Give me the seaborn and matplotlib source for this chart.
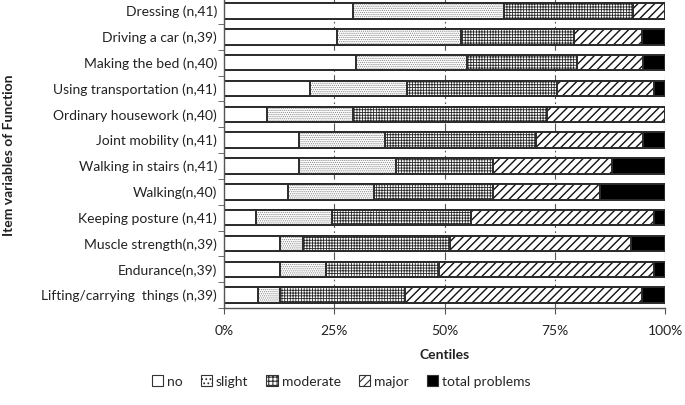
import matplotlib.pyplot as plt
import seaborn as sns
import pandas as pd
import numpy as np
from matplotlib.patches import Patch

# percentages per item
items = ['Dressing (n,41)', 'Driving a car (n,39)', 'Making the bed (n,40)',
         'Using transportation (n,41)', 'Ordinary housework (n,40)',
         'Joint mobility (n,41)', 'Walking in stairs (n,41)', 'Walking(n,40)',
         'Keeping posture (n,41)', 'Muscle strength(n,39)', 'Endurance(n,39)',
         'Lifting/carrying  things (n,39)']
no = [29.3, 25.6, 30.0, 19.5, 9.8, 17.1, 17.1, 14.6, 7.3, 12.8, 12.8, 7.7]
slight = [34.1, 28.2, 25.0, 22.0, 19.5, 19.5, 22.0, 19.5, 17.1, 5.1, 10.3, 5.1]
moderate = [29.3, 25.6, 25.0, 34.1, 43.9, 34.1, 22.0, 26.8, 31.7, 33.3, 25.6, 28.2]
major = [7.3, 15.4, 15.0, 22.0, 26.8, 24.4, 26.8, 24.4, 41.5, 41.0, 48.7, 53.8]
total = [0.0, 5.1, 5.0, 2.4, 0.0, 4.9, 12.2, 14.6, 2.4, 7.7, 2.6, 5.1]

categories = ['no', 'slight', 'moderate', 'major', 'total problems']

sns.set_style('white')
plt.rcParams['font.family'] = ['Lato', 'DejaVu Sans']

df = pd.DataFrame({'Item': items, 'no': no, 'slight': slight, 'moderate': moderate,
                   'major': major, 'total problems': total})
cum = df[categories].cumsum(axis=1)
cum['total problems'] = 100.0

# face colour, hatch, hatch colour, hatch line width
styles = {
    'no': ('white', '', '#333333', 0.6),
    'slight': ('white', '........', '#8a8a8a', 0.6),
    'moderate': ('white', '++++++', '#2a2a2a', 0.6),
    'major': ('white', '////', '#111111', 1.0),
    'total problems': ('black', '', 'black', 0.6),
}

fig = plt.figure(figsize=(6.85, 4.05), dpi=100)
ax = fig.add_axes([224 / 685, 1 - 308 / 405, 441 / 685, 310 / 405])

# stacked bars: draw cumulative widths from the longest to the shortest
for cat in categories[::-1]:
    fc, hatch, hc, hlw = styles[cat]
    plt.rcParams['hatch.linewidth'] = hlw
    n0 = len(ax.patches)
    sns.barplot(x=cum[cat], y=df['Item'], orient='h', color=fc, saturation=1,
                width=0.6, errorbar=None, ax=ax)
    for p in ax.patches[n0:]:
        p.set_hatch(hatch)
        p.set_edgecolor(hc)
        p.set_linewidth(0)
        if hasattr(p, 'set_hatch_linewidth'):
            p.set_hatch_linewidth(hlw)
    sns.barplot(x=cum[cat], y=df['Item'], orient='h', fill=False, color='#2b2b2b',
                width=0.6, errorbar=None, linewidth=1.4, ax=ax)

ax.set_xlim(0, 100)
ax.set_ylim(len(items) - 0.5, -0.5)
ax.set_xticks([0, 25, 50, 75, 100])
ax.set_xticklabels(['0%', '25%', '50%', '75%', '100%'])
ax.set_axisbelow(True)
ax.xaxis.grid(True, linestyle=(0, (7, 3, 1.5, 3)), color='#555555', linewidth=0.8)
ax.set_yticks(np.arange(-0.5, len(items), 1), minor=True)
ax.tick_params(axis='y', which='major', length=0, pad=5, labelsize=10, colors='#222222')
ax.tick_params(axis='y', which='minor', length=4, left=True, color='#555555')
ax.tick_params(axis='x', length=4, bottom=True, pad=8, labelsize=10,
               colors='#222222', color='#555555')
for s in ['top', 'right']:
    ax.spines[s].set_visible(False)
for s in ['left', 'bottom']:
    ax.spines[s].set_color('#555555')
    ax.spines[s].set_linewidth(1.0)

ax.set_xlabel('Centiles', fontsize=10, fontweight='bold', color='#222222', labelpad=9)
ax.set_ylabel('')
fig.text(9 / 685, 1 - 155 / 405, 'Item variables of Function', rotation=90,
         ha='center', va='center', fontsize=10, fontweight='bold', color='#222222')

plt.rcParams['hatch.linewidth'] = 0.8
handles = []
for cat in categories:
    fc, hatch, hc, hlw = styles[cat]
    handles.append(Patch(facecolor=fc, edgecolor='#333333', hatch=hatch[:4], linewidth=0.8))
fig.legend(handles, categories, loc='center', bbox_to_anchor=(0.498, 0.058), ncol=5,
           frameon=False, fontsize=10, handlelength=0.8, handleheight=0.8,
           handletextpad=0.3, columnspacing=1.3)

fig.savefig('out.png', dpi=100)
